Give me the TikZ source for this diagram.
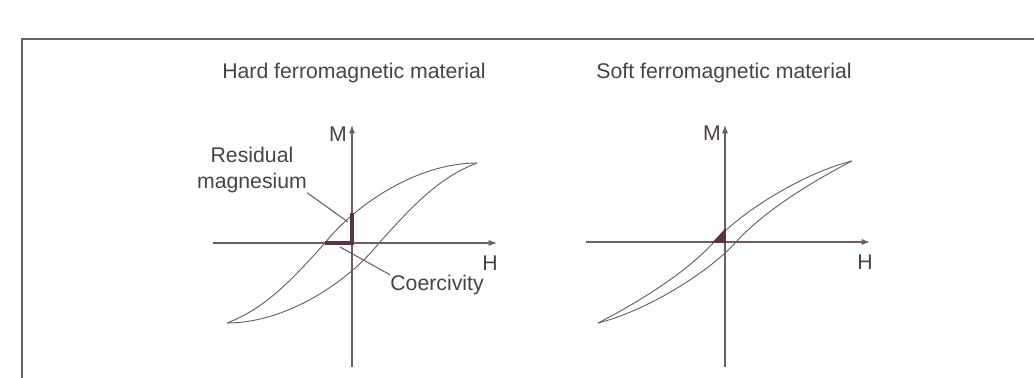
\documentclass[tikz,border=0pt]{standalone}
\usepackage{fontspec}
\setmainfont{Liberation Sans}
\usetikzlibrary{arrows.meta}
\definecolor{curve}{HTML}{6B5E68}
\definecolor{thickink}{HTML}{5A3346}
\definecolor{ink}{HTML}{4A4247}

\begin{document}
\begin{tikzpicture}[
  x=0.02646cm, y=-0.02646cm,
  ax/.style={draw=curve, line width=0.8pt, -{Latex[length=2.2mm,width=1.6mm]}},
  loop/.style={draw=curve, line width=0.7pt},
  lbl/.style={font=\fontsize{16}{19}\selectfont, text=ink, inner sep=0pt},
  ptr/.style={draw=curve, line width=0.8pt},
  thk/.style={draw=thickink, line width=2.4pt, line join=miter},
]
  \useasboundingbox[fill=white] (0,0) rectangle (1034,378);
  \draw[curve, line width=0.8pt] (22,378) -- (22,39) -- (1034,39);

  % Hard ferromagnetic material
  \node[lbl] (hardT) at (354,73) {Hard ferromagnetic material};
  \coordinate (hMb) at (352,367);
  \coordinate (hMt) at (352,125);
  \coordinate (hHl) at (213,243);
  \coordinate (hHr) at (497,243);
  \draw[ax] (hMb) -- (hMt);
  \draw[ax] (hHl) -- (hHr);
  \node[lbl] (hardM) at (338,134) {M};
  \node[lbl] (hardH) at (490,263) {H};
  \begin{scope}[shift={(352,243)}, yscale=-1]
    \draw[loop] (-125,-80) .. controls (-85,-65) and (-57,-33) .. (-27,0)
                .. controls (3,38) and (65,80) .. (125,80);
    \draw[loop] (-125,-80) .. controls (-65,-80) and (-3,-38) .. (27,0)
                .. controls (57,33) and (85,65) .. (125,80);
  \end{scope}
  \coordinate (hc) at (325,243);
  \coordinate (hr) at (352,213);
  \draw[thk] (hc) -- (352,243) -- (hr);
  \node[lbl, align=center] (resid) at (252,170) {Residual\\magnesium};
  \node[lbl] (coer) at (437,285) {Coercivity};
  \coordinate (rTip) at (348,222);
  \coordinate (cTip) at (340,247);
  \draw[ptr] (resid.south east) -- (rTip);
  \draw[ptr] (coer.north west) -- (cTip);

  % Soft ferromagnetic material
  \node[lbl] (softT) at (724,73) {Soft ferromagnetic material};
  \coordinate (sMb) at (725,367);
  \coordinate (sMt) at (725,125);
  \coordinate (sHl) at (586,242);
  \coordinate (sHr) at (870,242);
  \draw[ax] (sMb) -- (sMt);
  \draw[ax] (sHl) -- (sHr);
  \node[lbl] (softM) at (712,133) {M};
  \node[lbl] (softH) at (865,262) {H};
  \begin{scope}[shift={(725,242)}, yscale=-1]
    \draw[loop] (-127,-81) .. controls (-92,-63) and (-41,-33) .. (-11,0)
                .. controls (19,33) and (82,70) .. (127,81);
    \draw[loop] (-127,-81) .. controls (-82,-70) and (-19,-33) .. (11,0)
                .. controls (41,33) and (92,63) .. (127,81);
    \filldraw[thickink, line width=1.2pt, line join=miter] (-11,0) -- (0,0) -- (0,12) -- cycle;
  \end{scope}
\end{tikzpicture}
\end{document}
